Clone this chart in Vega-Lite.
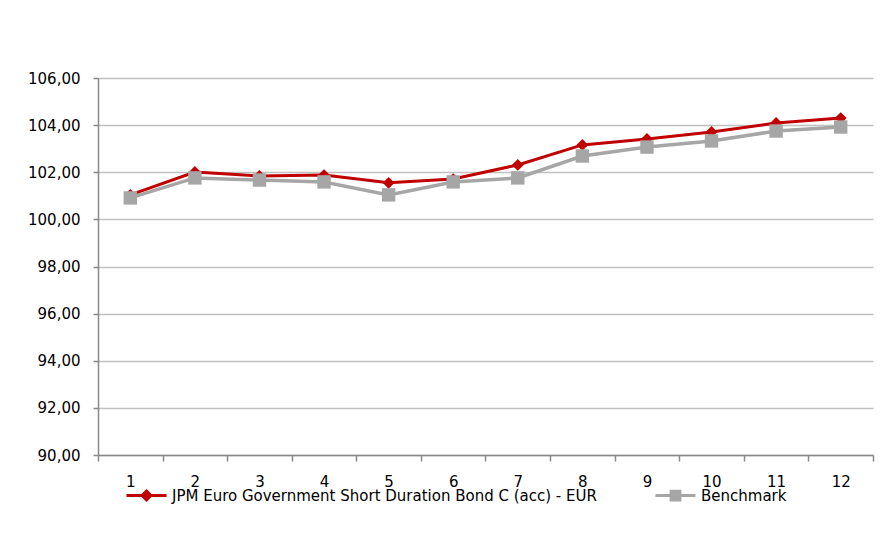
{
  "$schema": "https://vega.github.io/schema/vega-lite/v6.json",
  "width": 775,
  "height": 377,
  "autosize": {"type": "none"},
  "padding": {"left": 98, "top": 78, "right": 14, "bottom": 94},
  "background": "white",
  "config": {
    "view": {"stroke": null},
    "font": "DejaVu Sans",
    "axis": {"labelFont": "DejaVu Sans", "labelFontSize": 15, "labelColor": "#000000"},
    "legend": {"labelFont": "DejaVu Sans", "labelFontSize": 15, "labelColor": "#000000"}
  },
  "data": {
    "values": [
      {"month": 1, "series": "JPM Euro Government Short Duration Bond C (acc) - EUR", "value": 101.04},
      {"month": 2, "series": "JPM Euro Government Short Duration Bond C (acc) - EUR", "value": 102.01},
      {"month": 3, "series": "JPM Euro Government Short Duration Bond C (acc) - EUR", "value": 101.84},
      {"month": 4, "series": "JPM Euro Government Short Duration Bond C (acc) - EUR", "value": 101.88},
      {"month": 5, "series": "JPM Euro Government Short Duration Bond C (acc) - EUR", "value": 101.55},
      {"month": 6, "series": "JPM Euro Government Short Duration Bond C (acc) - EUR", "value": 101.71},
      {"month": 7, "series": "JPM Euro Government Short Duration Bond C (acc) - EUR", "value": 102.31},
      {"month": 8, "series": "JPM Euro Government Short Duration Bond C (acc) - EUR", "value": 103.16},
      {"month": 9, "series": "JPM Euro Government Short Duration Bond C (acc) - EUR", "value": 103.41},
      {"month": 10, "series": "JPM Euro Government Short Duration Bond C (acc) - EUR", "value": 103.71},
      {"month": 11, "series": "JPM Euro Government Short Duration Bond C (acc) - EUR", "value": 104.09},
      {"month": 12, "series": "JPM Euro Government Short Duration Bond C (acc) - EUR", "value": 104.30},
      {"month": 1, "series": "Benchmark", "value": 100.91},
      {"month": 2, "series": "Benchmark", "value": 101.76},
      {"month": 3, "series": "Benchmark", "value": 101.67},
      {"month": 4, "series": "Benchmark", "value": 101.59},
      {"month": 5, "series": "Benchmark", "value": 101.04},
      {"month": 6, "series": "Benchmark", "value": 101.59},
      {"month": 7, "series": "Benchmark", "value": 101.76},
      {"month": 8, "series": "Benchmark", "value": 102.69},
      {"month": 9, "series": "Benchmark", "value": 103.07},
      {"month": 10, "series": "Benchmark", "value": 103.33},
      {"month": 11, "series": "Benchmark", "value": 103.75},
      {"month": 12, "series": "Benchmark", "value": 103.92}
    ]
  },
  "encoding": {
    "x": {
      "field": "month",
      "type": "ordinal",
      "scale": {"paddingInner": 0, "paddingOuter": 0},
      "axis": {
        "title": null,
        "labelAngle": 0,
        "tickBand": "extent",
        "tickSize": 6,
        "tickColor": "#898989",
        "tickWidth": 1.5,
        "domainColor": "#898989",
        "domainWidth": 1.5,
        "labelPadding": 13,
        "grid": false
      }
    },
    "y": {
      "field": "value",
      "type": "quantitative",
      "scale": {"domain": [90, 106], "nice": false, "zero": false},
      "axis": {
        "title": null,
        "values": [90, 92, 94, 96, 98, 100, 102, 104, 106],
        "labelExpr": "replace(format(datum.value, '.2f'), '.', ',')",
        "tickSize": 5,
        "tickColor": "#898989",
        "tickWidth": 1.5,
        "domainColor": "#898989",
        "domainWidth": 1.5,
        "labelPadding": 13,
        "grid": true,
        "gridColor": "#c0c0c0",
        "gridWidth": 1.5
      }
    },
    "color": {
      "field": "series",
      "type": "nominal",
      "scale": {
        "domain": ["JPM Euro Government Short Duration Bond C (acc) - EUR", "Benchmark"],
        "range": ["#C00000", "#A6A6A6"]
      },
      "legend": {
        "title": null,
        "orient": "none",
        "direction": "horizontal",
        "legendX": 27,
        "legendY": 396,
        "padding": 0,
        "columnPadding": 52,
        "labelOffset": 4,
        "labelLimit": 700,
        "symbolSize": 1600,
        "symbolStrokeWidth": 3,
        "encode": {
          "symbols": {
            "update": {
              "shape": {"signal": "datum.value === 'Benchmark' ? 'M-1,0H1M-0.22,-0.22H0.22V0.22H-0.22Z' : 'M-1,0H1M0,-0.22L0.22,0L0,0.22L-0.22,0Z'"},
              "fill": {"signal": "datum.value === 'Benchmark' ? '#A6A6A6' : '#C00000'"},
              "stroke": {"signal": "datum.value === 'Benchmark' ? '#A6A6A6' : '#C00000'"},
              "strokeWidth": {"value": 3},
              "opacity": {"value": 1}
            }
          }
        }
      }
    }
  },
  "layer": [
    {
      "transform": [{"filter": "datum.series !== 'Benchmark'"}],
      "mark": {"type": "line", "strokeWidth": 3}
    },
    {
      "transform": [{"filter": "datum.series !== 'Benchmark'"}],
      "mark": {"type": "point", "shape": "diamond", "filled": true, "size": 140, "opacity": 1}
    },
    {
      "transform": [{"filter": "datum.series === 'Benchmark'"}],
      "mark": {"type": "line", "strokeWidth": 3.5}
    },
    {
      "transform": [{"filter": "datum.series === 'Benchmark'"}],
      "mark": {"type": "point", "shape": "square", "filled": true, "size": 180, "opacity": 1}
    }
  ]
}
